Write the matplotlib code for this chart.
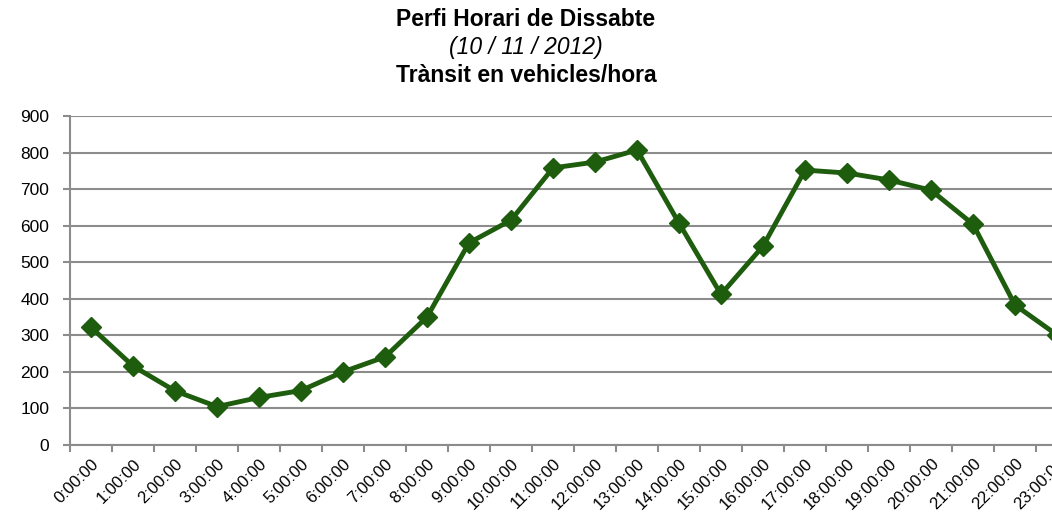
import numpy as np
import matplotlib.pyplot as plt

plt.rcParams['font.family'] = ['Liberation Sans', 'DejaVu Sans']

# Data
hours = ['%d:00:00' % h for h in range(24)]
vehicles = [322, 216, 148, 105, 130, 149, 200, 241, 350, 553, 615, 758,
            774, 807, 607, 412, 544, 752, 744, 725, 697, 604, 383, 301]

fig = plt.figure(figsize=(10.52, 5.16), dpi=100)
ax = fig.add_axes([70 / 1052, 71 / 516, 1008 / 1052, 329 / 516])

x = np.arange(len(hours))
ax.plot(x, vehicles, color='#1e5c0e', lw=3.5, marker='D', markersize=10.5,
        markerfacecolor='#1e5c0e', markeredgecolor='#1e5c0e', clip_on=False, zorder=3)

ax.set_xlim(-0.5, len(hours) - 0.5)
ax.set_ylim(0, 900)
ax.set_yticks(np.arange(0, 901, 100))
ax.yaxis.grid(True, color='#8c8c8c', lw=1.5)
ax.set_axisbelow(True)

# category ticks sit between points, labels at the points
ax.set_xticks(np.arange(-0.5, len(hours), 1.0))
ax.set_xticklabels([])
ax.set_xticks(x, minor=True)
ax.set_xticklabels(hours, minor=True, rotation=45, ha='right', rotation_mode='anchor', fontsize=12)
ax.tick_params(axis='x', which='minor', length=0, pad=8)
ax.tick_params(axis='x', which='major', length=5, width=1.5, color='#8c8c8c')
ax.tick_params(axis='y', length=5, width=1.5, color='#8c8c8c', labelsize=12.5, pad=10)

for s in ['top', 'right']:
    ax.spines[s].set_visible(False)
for s in ['left', 'bottom']:
    ax.spines[s].set_color('#8c8c8c')
    ax.spines[s].set_linewidth(1.5)

fig.text(0.5, 1 - 20 / 516, 'Perfi Horari de Dissabte', ha='center', va='center',
         fontsize=16.5, fontweight='bold')
fig.text(0.5, 1 - 48 / 516, '(10 / 11 / 2012)', ha='center', va='center',
         fontsize=16.5, style='italic')
fig.text(0.5, 1 - 76 / 516, 'Trànsit en vehicles/hora', ha='center', va='center',
         fontsize=16.5, fontweight='bold')

fig.savefig('out.png', dpi=100)
